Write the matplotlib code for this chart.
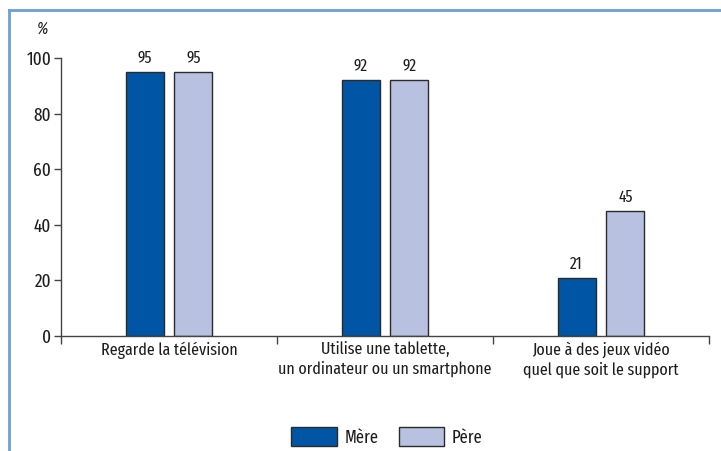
import matplotlib.pyplot as plt
from matplotlib.lines import Line2D
import numpy as np

categories = ["Regarde la télévision",
              "Utilise une tablette,\nun ordinateur ou un smartphone",
              "Joue à des jeux vidéo\nquel que soit le support"]
mere = [95, 92, 21]
pere = [95, 92, 45]
series_names = ["Mère", "Père"]

plt.rcParams['font.family'] = ['Fira Sans Extra Condensed', 'DejaVu Sans']
plt.rcParams['text.color'] = '#1e1e1e'
plt.rcParams['xtick.labelcolor'] = '#1e1e1e'
plt.rcParams['ytick.labelcolor'] = '#1e1e1e'

fig = plt.figure(figsize=(7.21, 4.51), dpi=100)
ax = fig.add_axes([61 / 721, 115 / 451, 648 / 721, 278 / 451])

x = np.arange(len(categories)) + 0.5
w = 0.176
off = 0.113
b1 = ax.bar(x - off, mere, w, color='#0055a4', edgecolor='#2b2b2b', linewidth=1, label=series_names[0])
b2 = ax.bar(x + off, pere, w, color='#b8c2e0', edgecolor='#2b2b2b', linewidth=1, label=series_names[1])
for bars in (b1, b2):
    for r in bars:
        ax.text(r.get_x() + r.get_width() / 2, r.get_height() + 2, f"{r.get_height():.0f}",
                ha='center', va='bottom', fontsize=12, clip_on=False)

ax.set_xlim(0, 3)
ax.set_ylim(0, 100)
ax.set_yticks([0, 20, 40, 60, 80, 100])
ax.tick_params(axis='y', length=5, width=1, color='#444444', labelsize=13.5, pad=2)
ax.set_xticks([0, 1, 2, 3])
ax.set_xticklabels([])
ax.tick_params(axis='x', which='major', length=6, direction='out', color='#444444', width=1)
ax.set_xticks(x, minor=True)
ax.set_xticklabels(categories, minor=True, fontsize=12.5, linespacing=1.25)
ax.tick_params(axis='x', which='minor', length=0, pad=4)

for s in ['top', 'right']:
    ax.spines[s].set_visible(False)
for s in ['left', 'bottom']:
    ax.spines[s].set_color('#444444')
    ax.spines[s].set_linewidth(1)

fig.text(42 / 721, 1 - 29 / 451, "%", ha='center', va='center', fontsize=12, style='italic')

fig.legend(loc='center', bbox_to_anchor=(387 / 721, 14 / 451), ncol=2, frameon=False,
           fontsize=13, handlelength=2.5, handleheight=1.2, columnspacing=1.1, handletextpad=0.45,
           borderpad=0.1)

fig.add_artist(Line2D([9 / 721, 9 / 721], [0, 1 - 10 / 451], color='#6a9fd8', lw=2))
fig.add_artist(Line2D([9 / 721, 1], [1 - 10 / 451, 1 - 10 / 451], color='#6a9fd8', lw=2))

fig.savefig('out.png', dpi=100)
